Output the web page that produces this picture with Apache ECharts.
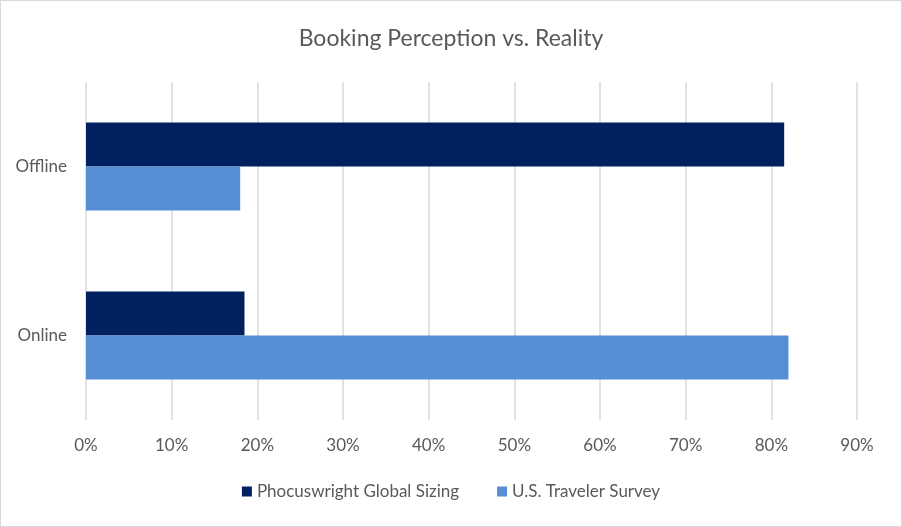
<!DOCTYPE html>
<html>
<head>
<meta charset="utf-8">
<script src="https://cdn.jsdelivr.net/npm/echarts@6/dist/echarts.min.js"></script>
<style>
  html, body { margin: 0; padding: 0; background: #fff; }
  #chart { width: 900px; height: 525px; border: 1px solid #d9d9d9; }
</style>
</head>
<body>
<div id="chart"></div>
<script>
// categories bottom -> top (ECharts category y axis starts at the bottom)
const categories = ['Online', 'Offline'];
const globalSizing = [18.5, 81.5];
const travelerSurvey = [82, 18];
const xTicks = [0, 10, 20, 30, 40, 50, 60, 70, 80, 90];

const textColor = '#595959';
const font = 'Lato, "Open Sans", sans-serif';

let chart = echarts.init(document.getElementById('chart'));
chart.setOption({
    animation: false,
    textStyle: { fontFamily: font },
    title: {
        text: 'Booking Perception vs. Reality',
        left: 'center',
        top: 21,
        textStyle: { fontFamily: font, fontSize: 23, fontWeight: 'normal', color: textColor }
    },
    legend: {
        bottom: 21,
        left: 'center',
        itemWidth: 10,
        itemHeight: 10,
        itemGap: 38,
        icon: 'rect',
        data: ['Phocuswright Global Sizing', 'U.S. Traveler Survey'],
        textStyle: { fontFamily: font, fontSize: 17, color: textColor }
    },
    grid: { left: 85, right: 44, top: 81, bottom: 106, containLabel: false },
    xAxis: {
        type: 'value',
        min: xTicks[0],
        max: xTicks[xTicks.length - 1],
        interval: 10,
        axisLine: { show: false },
        axisTick: { show: false },
        splitLine: { lineStyle: { color: '#d9d9d9', width: 1.5 } },
        axisLabel: {
            formatter: '{value}%',
            margin: 17,
            fontFamily: font, fontSize: 17, color: textColor
        }
    },
    yAxis: {
        type: 'category',
        data: categories,
        axisLine: { show: false },
        axisTick: { show: false },
        axisLabel: { margin: 19, fontFamily: font, fontSize: 17, color: textColor }
    },
    series: [
        {
            name: 'Phocuswright Global Sizing',
            type: 'bar',
            data: globalSizing,
            barGap: '0%',
            barCategoryGap: '48%',
            itemStyle: { color: '#002060' }
        },
        {
            name: 'U.S. Traveler Survey',
            type: 'bar',
            data: travelerSurvey,
            itemStyle: { color: '#558ED5' }
        }
    ]
});
</script>
</body>
</html>
